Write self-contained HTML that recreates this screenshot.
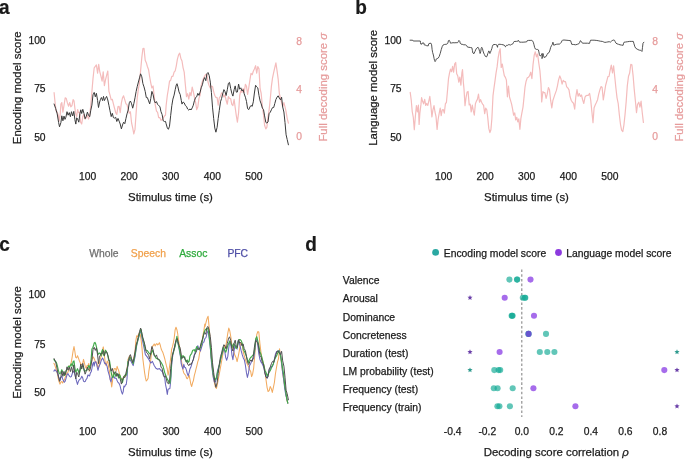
<!DOCTYPE html>
<html><head><meta charset="utf-8"><style>
html,body{margin:0;padding:0;background:#fff;width:685px;height:459px;overflow:hidden}
svg{display:block;will-change:transform}
text{font-family:"Liberation Sans",sans-serif}
</style></head><body>
<svg width="685" height="459" viewBox="0 0 685 459">
<text transform="translate(-1.0,13.5) scale(1,1.05)" x="0" y="0" font-size="19" font-weight="bold" fill="#1a1a1a" stroke="#1a1a1a" stroke-width="0.2">a</text>
<text transform="translate(355.3,13.5) scale(1,1.05)" x="0" y="0" font-size="19" font-weight="bold" fill="#1a1a1a" stroke="#1a1a1a" stroke-width="0.2">b</text>
<text transform="translate(-0.7,250.9) scale(1,1.05)" x="0" y="0" font-size="19" font-weight="bold" fill="#1a1a1a" stroke="#1a1a1a" stroke-width="0.2">c</text>
<text transform="translate(305.3,250.5) scale(1,1.05)" x="0" y="0" font-size="19" font-weight="bold" fill="#1a1a1a" stroke="#1a1a1a" stroke-width="0.2">d</text>
<text transform="translate(20.8,87.8) rotate(-90)" x="0" y="0" font-size="11.4" fill="#1a1a1a" stroke="#1a1a1a" stroke-width="0.25" text-anchor="middle">Encoding model score</text>
<text x="45.6" y="44.1" font-size="10.3" fill="#1a1a1a" stroke="#1a1a1a" stroke-width="0.25" text-anchor="end" >100</text>
<text x="45.6" y="92.2" font-size="10.3" fill="#1a1a1a" stroke="#1a1a1a" stroke-width="0.25" text-anchor="end" >75</text>
<text x="45.6" y="140.7" font-size="10.3" fill="#1a1a1a" stroke="#1a1a1a" stroke-width="0.25" text-anchor="end" >50</text>
<text x="296.3" y="45.3" font-size="10.3" fill="#e69c9c" stroke="#e69c9c" stroke-width="0.25" text-anchor="start" >8</text>
<text x="296.3" y="92.7" font-size="10.3" fill="#e69c9c" stroke="#e69c9c" stroke-width="0.25" text-anchor="start" >4</text>
<text x="296.3" y="139.6" font-size="10.3" fill="#e69c9c" stroke="#e69c9c" stroke-width="0.25" text-anchor="start" >0</text>
<text transform="translate(327.2,87.2) rotate(-90)" x="0" y="0" font-size="11.4" fill="#e69c9c" stroke="#e69c9c" stroke-width="0.25" text-anchor="middle">Full decoding score <tspan font-style="italic">σ</tspan></text>
<text x="87.7" y="180.2" font-size="10.3" fill="#1a1a1a" stroke="#1a1a1a" stroke-width="0.25" text-anchor="middle" >100</text>
<text x="129.2" y="180.2" font-size="10.3" fill="#1a1a1a" stroke="#1a1a1a" stroke-width="0.25" text-anchor="middle" >200</text>
<text x="170.6" y="180.2" font-size="10.3" fill="#1a1a1a" stroke="#1a1a1a" stroke-width="0.25" text-anchor="middle" >300</text>
<text x="212.3" y="180.2" font-size="10.3" fill="#1a1a1a" stroke="#1a1a1a" stroke-width="0.25" text-anchor="middle" >400</text>
<text x="253.8" y="180.2" font-size="10.3" fill="#1a1a1a" stroke="#1a1a1a" stroke-width="0.25" text-anchor="middle" >500</text>
<text x="170.5" y="201" font-size="11.4" fill="#1a1a1a" stroke="#1a1a1a" stroke-width="0.25" text-anchor="middle" >Stimulus time (s)</text>
<text transform="translate(376.8,87.8) rotate(-90)" x="0" y="0" font-size="11.4" fill="#1a1a1a" stroke="#1a1a1a" stroke-width="0.25" text-anchor="middle">Language model score</text>
<text x="401.6" y="44.1" font-size="10.3" fill="#1a1a1a" stroke="#1a1a1a" stroke-width="0.25" text-anchor="end" >100</text>
<text x="401.6" y="92.2" font-size="10.3" fill="#1a1a1a" stroke="#1a1a1a" stroke-width="0.25" text-anchor="end" >75</text>
<text x="401.6" y="140.7" font-size="10.3" fill="#1a1a1a" stroke="#1a1a1a" stroke-width="0.25" text-anchor="end" >50</text>
<text x="652.3" y="45.3" font-size="10.3" fill="#e69c9c" stroke="#e69c9c" stroke-width="0.25" text-anchor="start" >8</text>
<text x="652.3" y="92.7" font-size="10.3" fill="#e69c9c" stroke="#e69c9c" stroke-width="0.25" text-anchor="start" >4</text>
<text x="652.3" y="139.6" font-size="10.3" fill="#e69c9c" stroke="#e69c9c" stroke-width="0.25" text-anchor="start" >0</text>
<text transform="translate(683.2,87.2) rotate(-90)" x="0" y="0" font-size="11.4" fill="#e69c9c" stroke="#e69c9c" stroke-width="0.25" text-anchor="middle">Full decoding score <tspan font-style="italic">σ</tspan></text>
<text x="443.7" y="180.2" font-size="10.3" fill="#1a1a1a" stroke="#1a1a1a" stroke-width="0.25" text-anchor="middle" >100</text>
<text x="485.2" y="180.2" font-size="10.3" fill="#1a1a1a" stroke="#1a1a1a" stroke-width="0.25" text-anchor="middle" >200</text>
<text x="526.6" y="180.2" font-size="10.3" fill="#1a1a1a" stroke="#1a1a1a" stroke-width="0.25" text-anchor="middle" >300</text>
<text x="568.3" y="180.2" font-size="10.3" fill="#1a1a1a" stroke="#1a1a1a" stroke-width="0.25" text-anchor="middle" >400</text>
<text x="609.8" y="180.2" font-size="10.3" fill="#1a1a1a" stroke="#1a1a1a" stroke-width="0.25" text-anchor="middle" >500</text>
<text x="526.5" y="201" font-size="11.4" fill="#1a1a1a" stroke="#1a1a1a" stroke-width="0.25" text-anchor="middle" >Stimulus time (s)</text>
<text transform="translate(20.5,342.5) rotate(-90)" x="0" y="0" font-size="11.4" fill="#1a1a1a" stroke="#1a1a1a" stroke-width="0.25" text-anchor="middle">Encoding model score</text>
<text x="45.6" y="298.3" font-size="10.3" fill="#1a1a1a" stroke="#1a1a1a" stroke-width="0.25" text-anchor="end" >100</text>
<text x="45.6" y="347.7" font-size="10.3" fill="#1a1a1a" stroke="#1a1a1a" stroke-width="0.25" text-anchor="end" >75</text>
<text x="45.6" y="395.9" font-size="10.3" fill="#1a1a1a" stroke="#1a1a1a" stroke-width="0.25" text-anchor="end" >50</text>
<text x="87.7" y="435.2" font-size="10.3" fill="#1a1a1a" stroke="#1a1a1a" stroke-width="0.25" text-anchor="middle" >100</text>
<text x="129.4" y="435.2" font-size="10.3" fill="#1a1a1a" stroke="#1a1a1a" stroke-width="0.25" text-anchor="middle" >200</text>
<text x="171" y="435.2" font-size="10.3" fill="#1a1a1a" stroke="#1a1a1a" stroke-width="0.25" text-anchor="middle" >300</text>
<text x="212.7" y="435.2" font-size="10.3" fill="#1a1a1a" stroke="#1a1a1a" stroke-width="0.25" text-anchor="middle" >400</text>
<text x="254.1" y="435.2" font-size="10.3" fill="#1a1a1a" stroke="#1a1a1a" stroke-width="0.25" text-anchor="middle" >500</text>
<text x="170.5" y="456" font-size="11.4" fill="#1a1a1a" stroke="#1a1a1a" stroke-width="0.25" text-anchor="middle" >Stimulus time (s)</text>
<text x="89.2" y="257.2" font-size="10.35" fill="#6e6e6e" stroke="#6e6e6e" stroke-width="0.25" text-anchor="start" >Whole</text>
<text x="130.8" y="257.2" font-size="10.35" fill="#f0a04b" stroke="#f0a04b" stroke-width="0.25" text-anchor="start" >Speech</text>
<text x="179.2" y="257.2" font-size="10.35" fill="#2eaa3c" stroke="#2eaa3c" stroke-width="0.25" text-anchor="start" >Assoc</text>
<text x="227.4" y="257.2" font-size="10.35" fill="#4e4ea6" stroke="#4e4ea6" stroke-width="0.25" text-anchor="start" >PFC</text>
<circle cx="435.6" cy="252.4" r="3.4" fill="#2aa8a2"/>
<text x="443.8" y="256.9" font-size="10.35" fill="#1a1a1a" stroke="#1a1a1a" stroke-width="0.25" text-anchor="start" >Encoding model score</text>
<circle cx="558.5" cy="252.5" r="3.4" fill="#8c3ade"/>
<text x="566.2" y="256.9" font-size="10.35" fill="#1a1a1a" stroke="#1a1a1a" stroke-width="0.25" text-anchor="start" >Language model score</text>
<text x="342.8" y="284.3" font-size="10.35" fill="#1a1a1a" stroke="#1a1a1a" stroke-width="0.25" text-anchor="start" >Valence</text>
<text x="342.8" y="302.40000000000003" font-size="10.35" fill="#1a1a1a" stroke="#1a1a1a" stroke-width="0.25" text-anchor="start" >Arousal</text>
<text x="342.8" y="320.5" font-size="10.35" fill="#1a1a1a" stroke="#1a1a1a" stroke-width="0.25" text-anchor="start" >Dominance</text>
<text x="342.8" y="338.6" font-size="10.35" fill="#1a1a1a" stroke="#1a1a1a" stroke-width="0.25" text-anchor="start" >Concreteness</text>
<text x="342.8" y="356.70000000000005" font-size="10.35" fill="#1a1a1a" stroke="#1a1a1a" stroke-width="0.25" text-anchor="start" >Duration (test)</text>
<text x="342.8" y="374.8" font-size="10.35" fill="#1a1a1a" stroke="#1a1a1a" stroke-width="0.25" text-anchor="start" >LM probability (test)</text>
<text x="342.8" y="392.90000000000003" font-size="10.35" fill="#1a1a1a" stroke="#1a1a1a" stroke-width="0.25" text-anchor="start" >Frequency (test)</text>
<text x="342.8" y="411.0" font-size="10.35" fill="#1a1a1a" stroke="#1a1a1a" stroke-width="0.25" text-anchor="start" >Frequency (train)</text>
<text x="452.7" y="435" font-size="10.3" fill="#1a1a1a" stroke="#1a1a1a" stroke-width="0.25" text-anchor="middle" >-0.4</text>
<text x="487.25" y="435" font-size="10.3" fill="#1a1a1a" stroke="#1a1a1a" stroke-width="0.25" text-anchor="middle" >-0.2</text>
<text x="521.8" y="435" font-size="10.3" fill="#1a1a1a" stroke="#1a1a1a" stroke-width="0.25" text-anchor="middle" >0.0</text>
<text x="556.35" y="435" font-size="10.3" fill="#1a1a1a" stroke="#1a1a1a" stroke-width="0.25" text-anchor="middle" >0.2</text>
<text x="590.9" y="435" font-size="10.3" fill="#1a1a1a" stroke="#1a1a1a" stroke-width="0.25" text-anchor="middle" >0.4</text>
<text x="625.45" y="435" font-size="10.3" fill="#1a1a1a" stroke="#1a1a1a" stroke-width="0.25" text-anchor="middle" >0.6</text>
<text x="660.0" y="435" font-size="10.3" fill="#1a1a1a" stroke="#1a1a1a" stroke-width="0.25" text-anchor="middle" >0.8</text>
<text x="556.3" y="456" font-size="11.4" fill="#1a1a1a" stroke="#1a1a1a" stroke-width="0.25" text-anchor="middle" >Decoding score correlation <tspan font-style="italic">ρ</tspan></text>
<line x1="521.8" y1="269.5" x2="521.8" y2="417" stroke="#888" stroke-width="1.1" stroke-dasharray="2.6,2.1"/>
<polyline points="54.1,92.7 55.0,101.9 56.1,111.1 57.2,112.0 58.4,115.7 59.1,121.1 60.2,114.3 60.9,104.1 61.8,102.6 62.9,112.2 64.0,105.3 65.2,97.8 66.3,98.6 67.4,102.9 68.6,106.2 69.7,102.5 70.8,106.8 72.0,105.5 73.1,99.6 74.0,100.8 74.9,108.4 75.6,113.2 76.7,116.7 77.6,109.5 78.5,112.7 79.5,112.2 80.6,122.1 81.7,124.0 82.8,116.6 84.0,114.3 85.1,119.2 86.2,117.7 87.4,115.0 88.5,119.0 89.7,115.3 90.8,105.1 91.9,91.8 93.0,78.6 94.2,67.8 95.3,66.3 96.4,65.0 97.6,73.2 98.7,64.3 99.8,71.8 101.0,76.3 102.1,81.1 103.2,71.9 104.4,85.7 105.5,79.8 106.6,75.3 107.8,71.0 108.9,91.1 110.0,95.1 111.2,99.8 112.3,99.3 113.4,103.8 114.6,108.5 115.7,112.7 116.8,114.4 118.0,106.6 119.1,106.4 120.2,112.6 121.4,102.9 122.5,97.9 123.6,95.8 124.8,99.9 125.9,103.7 127.0,104.6 128.2,109.6 129.3,113.2 130.4,111.8 131.6,123.0 132.7,127.8 133.8,133.9 135.0,129.4 136.1,113.3 137.2,98.2 138.4,88.8 139.5,82.9 140.6,70.6 141.8,57.6 142.9,48.7 144.0,48.4 145.2,60.3 146.3,62.7 147.4,66.5 148.6,69.8 149.7,77.0 150.8,83.1 151.9,88.0 153.1,86.0 154.2,96.2 155.3,105.1 156.5,111.2 157.6,112.4 158.7,117.7 159.9,117.7 161.0,120.3 162.1,119.9 163.3,117.8 164.4,116.1 165.5,115.0 166.1,105.8 167.3,95.5 168.4,89.0 169.5,81.3 170.7,80.2 171.8,76.3 172.9,76.4 174.1,72.1 175.2,70.8 176.3,65.8 177.4,59.1 178.6,54.9 179.7,53.2 180.8,58.2 182.0,61.0 183.1,67.8 184.2,72.1 185.4,85.3 186.5,96.6 187.6,93.7 188.8,99.1 189.9,92.5 191.0,95.7 192.2,87.2 193.3,91.6 194.4,97.2 195.6,102.1 196.7,109.6 197.8,107.1 199.0,98.1 200.1,95.3 201.2,85.4 202.4,81.3 203.5,78.4 204.6,76.4 205.8,74.3 206.9,74.6 208.0,82.0 209.2,85.8 210.3,88.0 211.4,86.0 212.5,86.5 213.7,91.8 214.8,95.5 215.9,97.4 217.1,97.7 218.2,105.1 219.3,98.0 220.5,96.1 221.6,92.9 222.7,93.8 223.9,97.0 225.0,95.1 226.1,100.3 227.3,104.2 228.4,96.7 229.5,98.3 230.7,98.8 231.8,104.4 232.9,105.5 234.1,99.4 235.2,107.6 236.3,115.6 237.4,122.2 238.6,112.7 239.7,95.5 240.8,90.6 242.0,92.3 243.1,88.5 244.2,92.4 245.4,84.3 246.5,86.3 247.6,94.5 248.8,87.3 249.9,80.2 251.0,73.4 252.2,74.7 253.3,71.2 254.4,69.0 255.6,65.7 256.7,73.2 257.8,66.6 259.0,68.9 260.1,88.7 261.2,93.5 262.4,106.9 263.5,114.5 264.6,125.2 265.8,128.9 266.9,127.1 268.0,117.1 269.1,110.1 270.3,98.6 271.4,86.4 272.5,78.2 273.7,72.3 274.8,67.5 275.9,62.9 277.1,71.2 278.2,79.3 279.3,93.3 280.5,98.5 281.6,102.7 282.7,106.5 283.9,102.6 285.0,106.9 286.1,111.8 287.2,118.3 288.4,123.2" fill="none" stroke="#f4bcbc" stroke-width="1.2" stroke-opacity="1.0" stroke-linejoin="round" stroke-linecap="round"/>
<polyline points="54.1,104.0 55.7,108.6 57.2,113.9 58.6,122.4 59.5,126.8 60.9,122.6 61.8,115.8 62.9,120.8 64.0,116.1 65.0,119.4 65.9,117.2 67.0,111.7 68.1,115.2 69.3,112.6 70.4,116.7 71.5,111.7 72.7,116.0 73.8,111.4 74.9,119.7 75.8,124.1 76.7,117.8 77.6,118.9 78.8,122.2 79.9,113.8 80.8,109.8 81.7,113.5 82.8,109.3 84.0,113.6 85.1,118.7 86.2,116.5 87.4,112.1 88.5,115.2 89.7,116.7 90.8,110.2 91.9,105.1 93.0,94.8 94.2,92.4 95.3,96.8 96.4,93.3 97.6,100.5 98.5,107.5 99.4,103.0 100.3,99.8 101.4,97.5 102.6,100.6 103.5,96.4 104.4,100.6 105.5,98.4 106.6,96.4 107.8,100.0 108.9,105.3 110.0,110.8 111.2,116.6 112.3,113.3 113.4,117.6 114.6,118.1 115.7,117.3 116.8,121.5 118.0,118.4 119.1,121.1 120.2,124.0 121.4,128.9 122.5,125.0 123.6,122.2 124.8,123.7 125.9,118.7 127.0,113.9 128.2,110.0 129.3,102.7 130.4,101.0 131.6,103.8 132.7,108.2 133.8,103.8 135.0,97.8 136.1,91.6 137.2,86.7 138.4,82.0 139.5,77.9 140.6,73.8 141.8,76.8 142.9,83.6 144.0,86.9 145.2,91.4 146.3,97.6 147.4,97.6 148.6,100.9 149.7,103.9 150.8,98.4 151.9,91.4 153.1,94.7 154.2,100.3 155.3,103.0 156.5,101.6 157.6,104.5 158.7,105.5 159.9,106.5 161.0,111.7 162.1,114.5 163.3,120.9 164.4,121.5 165.5,121.4 166.1,123.7 167.3,127.9 168.4,129.3 169.5,126.2 170.7,115.3 171.8,105.7 172.9,99.1 174.1,95.1 175.2,89.7 176.3,84.8 177.0,83.7 177.9,86.8 179.0,91.9 180.2,94.5 181.3,100.5 182.0,104.1 183.1,102.0 184.2,102.8 185.4,105.6 186.5,106.4 187.6,109.0 188.8,110.2 189.9,108.9 191.0,110.0 192.2,107.9 193.3,105.2 194.4,100.7 195.6,97.5 196.7,96.8 197.8,93.3 199.0,95.4 200.1,92.1 201.2,87.8 202.4,84.8 203.5,80.0 204.6,77.6 205.8,80.7 206.9,73.8 208.0,72.5 209.2,75.5 210.3,82.1 211.4,92.4 212.5,107.1 213.7,118.7 214.8,128.1 215.9,132.2 217.1,127.4 218.2,118.4 219.3,110.3 220.5,101.8 221.6,98.4 222.7,93.9 223.9,89.6 225.0,91.6 226.1,95.5 227.3,89.7 228.4,83.3 229.5,82.4 230.7,88.5 231.8,93.2 232.9,96.1 234.1,89.8 235.2,85.9 236.3,92.2 237.4,92.0 238.6,84.1 239.7,89.2 240.8,87.8 242.0,91.0 243.1,89.6 244.2,93.9 245.4,97.2 246.5,101.5 247.6,108.7 248.8,109.6 249.9,107.0 251.0,105.4 252.2,106.4 253.3,101.8 254.4,93.0 255.6,85.3 256.7,86.9 257.8,87.9 259.0,95.6 260.1,100.9 261.2,103.9 262.4,108.2 263.5,109.5 264.6,115.9 265.8,122.4 266.9,123.1 268.0,122.0 269.1,113.6 270.3,112.2 271.4,109.8 272.5,107.6 273.7,107.5 274.8,103.5 275.9,99.5 277.1,97.1 278.2,95.8 279.3,98.1 280.5,99.9 281.6,97.2 282.7,107.0 283.9,112.0 285.0,122.5 286.1,134.8 287.2,139.5 288.4,144.8" fill="none" stroke="#3a3a3a" stroke-width="1.0" stroke-opacity="1.0" stroke-linejoin="round" stroke-linecap="round"/>
<polyline points="410.2,92.4 411.2,99.8 412.2,111.3 413.3,117.4 414.3,129.6 415.4,116.0 416.4,105.6 417.4,111.9 418.4,105.0 419.1,124.5 419.9,112.8 420.9,104.9 421.6,97.6 422.6,101.3 423.6,103.9 424.7,99.3 425.7,105.4 426.7,103.5 427.8,105.4 428.8,101.1 429.8,96.3 430.9,105.7 431.9,116.9 432.9,110.1 434.0,105.6 435.0,112.0 436.0,116.5 437.1,129.4 438.1,119.5 439.1,113.8 440.2,108.0 441.2,115.7 442.2,109.9 443.3,109.6 444.3,113.2 445.4,103.7 446.4,102.5 447.4,91.7 448.5,78.7 449.5,73.2 450.5,69.2 451.6,71.7 452.6,66.3 453.6,72.2 454.7,63.9 455.7,62.5 456.7,73.8 457.8,76.1 458.8,82.1 459.8,77.1 460.9,85.1 461.9,72.8 462.5,69.6 463.4,82.9 464.0,89.0 465.0,105.6 466.1,97.1 467.1,92.0 468.1,91.5 469.2,104.9 470.2,104.1 471.2,111.9 472.3,105.2 473.3,110.7 474.3,115.1 475.4,103.7 476.4,101.1 477.4,99.4 478.5,94.2 479.5,102.2 480.5,99.6 481.6,102.3 482.6,104.1 483.6,105.4 484.7,113.7 485.7,108.2 486.8,109.8 487.8,118.1 488.8,128.4 489.9,132.6 490.9,129.8 491.9,118.3 493.0,95.7 494.0,87.8 495.0,80.9 496.1,72.6 497.1,66.9 498.1,58.1 499.2,51.9 500.2,48.7 501.2,67.5 502.3,64.0 503.3,70.3 504.3,75.7 505.4,77.4 506.4,80.1 507.4,96.8 508.5,86.0 509.5,97.0 510.6,100.6 511.6,104.1 512.6,109.2 513.6,115.2 514.7,112.9 515.7,119.9 516.8,117.3 517.8,122.0 518.8,118.9 519.9,129.3 520.9,118.4 521.9,112.9 523.0,107.1 524.0,97.4 525.0,87.1 526.1,81.2 527.3,77.8 528.4,77.3 529.6,75.7 530.7,72.2 531.9,78.7 533.0,64.9 534.2,55.2 535.3,51.8 536.5,56.8 537.6,54.0 538.7,62.5 539.9,70.5 541.0,83.9 541.7,101.9 542.9,91.5 543.8,92.7 544.9,92.7 546.1,98.3 547.2,94.2 548.4,87.6 549.5,89.8 550.6,100.2 551.8,107.8 552.9,100.5 554.1,96.9 555.2,93.6 556.4,90.4 557.5,85.6 558.6,79.7 559.8,75.9 560.9,78.7 562.1,84.2 563.2,80.3 564.4,81.7 565.5,81.6 566.7,86.8 567.8,87.9 569.0,89.9 570.1,96.8 571.2,100.3 572.4,102.3 573.5,103.2 574.7,109.1 575.8,96.8 577.0,89.6 578.1,96.2 579.3,93.5 580.4,96.5 581.5,95.0 582.7,100.0 583.8,103.5 585.0,97.1 586.1,95.6 587.3,95.4 588.4,95.3 589.6,93.4 590.7,100.0 591.9,111.9 593.0,122.7 594.1,107.8 595.3,104.7 596.4,102.4 597.6,99.7 598.7,94.2 599.9,89.8 601.0,86.6 602.1,87.2 603.3,100.0 604.4,93.2 605.6,85.5 606.7,81.3 607.9,76.7 609.0,76.5 610.2,70.0 611.3,65.2 612.5,73.0 613.6,65.8 614.7,76.3 615.9,88.0 617.0,97.6 618.2,103.5 619.3,114.5 620.5,124.5 621.6,130.2 622.8,131.6 623.9,125.1 625.0,114.9 626.2,101.4 627.3,85.9 628.5,76.3 629.6,73.3 630.8,64.3 631.9,64.8 633.1,75.6 634.2,89.1 635.4,101.0 636.5,112.6 637.6,104.2 638.8,102.2 639.9,107.1 641.1,101.2 642.2,112.2 643.4,122.4" fill="none" stroke="#f4bcbc" stroke-width="1.2" stroke-opacity="1.0" stroke-linejoin="round" stroke-linecap="round"/>
<polyline points="410.1,40.2 412.7,40.2 413.2,41.0 420.3,41.0 420.5,42.7 420.8,44.1 421.9,44.1 422.2,43.0 423.9,43.0 424.2,44.8 424.9,45.1 425.9,45.1 426.5,45.8 428.3,45.8 428.7,43.8 430.0,43.2 431.1,43.4 431.6,44.8 432.1,49.4 432.6,52.4 433.1,54.0 433.6,56.0 434.1,58.6 434.6,60.6 435.1,61.6 435.7,60.6 436.2,59.1 437.2,58.6 438.2,58.1 439.2,56.5 440.2,53.5 441.3,49.4 442.3,46.3 443.0,45.1 444.3,44.5 445.9,44.3 446.9,44.1 447.7,43.4 448.1,42.2 448.4,40.7 449.4,40.4 450.0,41.7 450.5,43.2 451.5,43.0 453.0,42.7 454.1,42.8 456.1,42.7 457.6,42.7 458.3,41.7 458.9,40.4 459.7,41.2 460.2,43.2 461.0,44.1 462.2,44.3 463.8,44.8 465.3,44.8 466.1,45.1 466.8,45.8 467.5,47.1 468.9,47.3 470.4,47.5 471.9,47.8 472.4,50.4 472.9,53.0 474.0,53.7 475.0,51.4 476.1,48.9 477.1,47.8 478.1,47.3 478.9,48.9 479.6,51.4 480.1,53.5 480.7,51.9 481.2,48.4 481.7,47.3 482.4,48.4 483.0,50.9 483.7,53.0 484.4,54.5 485.3,56.3 486.3,57.0 487.1,56.0 487.8,53.5 488.3,52.4 488.8,50.9 489.4,51.9 489.9,53.5 490.4,52.4 491.2,50.4 491.9,48.4 492.4,46.3 493.1,44.8 493.9,44.5 495.5,44.5 496.7,44.8 497.2,46.3 497.5,47.3 497.8,45.3 498.6,44.3 500.1,44.3 501.6,44.5 503.1,44.8 504.2,45.1 504.9,46.3 505.5,46.8 505.9,45.8 506.7,45.3 507.7,45.3 508.8,44.5 509.8,44.8 510.8,45.1 511.6,44.3 512.6,44.1 513.4,42.7 513.9,41.7 514.9,41.4 516.4,41.4 518.0,41.0 518.5,40.4 519.0,41.7 520.0,42.2 521.5,42.2 523.1,42.2 525.1,42.0 526.6,41.9 527.2,40.7 528.7,40.4 530.2,40.4 531.8,40.4 532.8,41.2 533.3,42.2 534.0,44.8 534.6,47.3 535.3,48.9 536.4,49.4 537.4,49.4 538.4,49.9 538.9,51.9 539.4,54.5 540.2,56.0 541.0,55.5 541.5,54.5 542.0,53.5 542.0,58.6 542.5,56.5 543.0,53.5 543.5,55.5 544.1,57.5 545.1,57.0 546.1,56.5 547.1,54.5 548.1,53.0 549.2,52.4 550.0,49.9 550.7,47.3 551.7,45.3 552.4,44.3 552.9,42.2 553.3,43.2 553.8,45.3 554.8,44.8 556.3,44.3 557.9,44.1 559.4,44.1 560.4,43.4 561.4,42.2 562.0,40.7 562.5,40.2 564.0,40.0 566.0,40.2 568.1,40.4 570.6,40.7 571.1,42.2 571.7,44.3 573.7,44.5 575.7,44.8 577.3,44.3 578.8,43.8 579.8,42.2 580.3,40.7 581.1,41.2 581.9,42.7 582.9,43.2 584.9,43.2 587.5,43.2 589.5,43.4 590.0,41.7 590.6,40.2 592.1,40.2 594.1,40.2 596.2,40.4 598.2,40.7 600.3,41.2 602.3,41.4 603.8,42.0 604.9,42.4 606.4,42.2 607.9,41.9 609.3,41.7 610.3,42.2 611.4,41.2 612.9,40.2 613.9,40.0 614.6,40.4 615.2,41.7 616.0,43.2 617.0,43.8 618.5,44.3 620.0,44.8 621.6,45.1 623.1,45.3 623.6,43.2 624.1,42.2 625.7,42.0 627.7,41.7 629.7,41.4 631.8,41.4 633.3,41.4 633.8,43.2 634.9,46.8 635.9,48.4 636.9,48.9 637.9,49.6 639.5,50.2 640.8,50.4 641.5,50.9 642.0,51.4 642.5,47.3 643.0,43.2 643.9,42.2" fill="none" stroke="#404040" stroke-width="0.9" stroke-opacity="1.0" stroke-linejoin="round" stroke-linecap="round"/>
<polyline points="53.9,363.3 54.8,365.1 55.7,367.9 56.5,370.9 57.4,373.9 58.3,378.6 59.1,381.8 60.0,384.1 60.9,382.0 61.8,381.6 62.6,383.0 63.5,381.2 64.4,379.8 65.2,377.4 66.1,374.8 67.0,373.1 67.9,372.3 68.7,369.8 69.6,366.0 70.5,365.1 71.3,362.1 72.2,356.9 73.1,350.9 74.0,346.6 74.8,351.0 75.7,357.4 76.6,357.9 77.5,355.7 78.3,357.6 79.2,360.4 80.1,362.4 80.9,364.8 81.8,364.2 82.7,363.3 83.5,359.4 84.4,362.9 85.3,366.7 86.2,368.2 87.0,365.6 87.9,365.8 88.8,363.5 89.2,371.1 89.9,368.5 90.7,365.1 91.5,362.1 92.2,359.6 93.0,356.7 93.8,357.9 94.5,359.3 95.3,361.6 96.0,361.9 96.8,362.3 97.6,366.1 98.3,368.1 99.1,365.6 99.8,361.2 100.6,357.9 101.4,356.1 102.1,353.5 102.9,348.4 103.3,346.9 104.1,352.8 104.9,360.0 105.6,365.2 106.4,364.5 107.2,361.1 107.9,362.3 108.7,367.3 109.5,371.7 110.2,379.3 111.0,381.6 111.7,386.9 112.5,381.2 113.3,373.4 114.0,369.0 114.8,368.5 115.5,368.7 116.3,371.0 117.1,366.3 117.8,368.4 118.6,370.3 119.4,373.5 120.1,376.2 120.9,378.5 121.7,379.0 122.4,379.7 123.2,378.3 123.9,376.2 124.7,377.0 125.5,376.1 126.2,374.9 127.0,369.8 128.0,359.4 129.8,355.7 131.5,361.0 133.2,361.8 135.0,351.5 135.8,341.2 136.7,335.8 137.6,336.7 138.5,334.4 139.3,333.0 140.2,334.2 141.1,339.7 142.0,347.9 142.8,358.4 143.7,365.5 144.6,372.6 145.4,377.7 146.3,381.0 147.2,380.0 148.1,378.2 148.9,370.8 149.8,365.4 150.7,360.1 151.6,351.9 152.4,346.6 153.3,345.4 154.2,343.9 155.1,345.9 155.9,344.4 156.8,343.6 157.7,344.9 158.5,344.1 159.4,342.8 160.3,345.3 161.2,349.0 162.0,350.8 162.9,352.6 163.8,355.3 164.7,358.5 165.5,361.9 166.4,365.7 167.3,369.0 168.1,375.1 169.0,370.7 169.9,363.8 170.8,357.2 171.6,349.4 172.5,346.7 173.4,342.7 174.2,338.0 175.1,330.0 176.0,327.2 176.9,329.7 177.7,333.7 178.6,340.9 179.5,346.4 180.4,352.4 181.2,359.3 182.1,364.7 183.0,370.2 183.8,373.0 184.7,374.3 185.6,375.2 186.5,377.8 187.3,378.8 188.2,377.2 189.1,375.2 189.9,379.2 190.8,384.0 191.7,386.5 192.6,382.8 193.4,380.6 194.3,375.6 195.2,372.3 196.1,368.7 196.9,365.6 197.8,361.7 198.7,359.1 199.6,353.0 200.4,350.0 201.3,346.3 202.2,340.5 203.0,335.2 203.9,330.4 204.8,324.1 205.0,326.6 206.0,322.5 207.1,318.4 208.1,316.2 209.1,326.7 210.2,340.9 211.2,355.9 212.2,367.2 213.3,376.7 214.3,382.0 215.3,386.8 216.4,388.4 217.4,384.3 218.5,377.9 219.5,372.8 220.5,367.4 221.6,361.2 222.6,355.7 223.6,349.5 224.7,345.2 225.7,346.8 226.7,340.7 227.8,333.2 228.8,328.1 229.8,331.0 230.9,337.3 231.9,345.3 232.9,348.7 234.0,352.4 235.0,355.6 236.1,357.7 237.1,361.6 238.1,357.1 239.2,351.3 240.2,345.3 241.2,342.7 242.3,345.3 243.3,352.0 244.3,355.8 245.4,359.6 246.4,362.3 247.4,364.3 248.5,366.4 249.5,369.6 250.6,371.2 251.6,376.6 252.6,374.2 253.7,367.8 254.7,355.8 255.7,342.9 256.8,334.5 257.8,331.6 258.8,332.0 259.9,343.5 260.9,351.9 261.9,358.5 263.0,361.9 264.0,366.2 265.0,371.7 266.1,380.4 267.1,387.6 268.1,391.5 269.2,390.7 270.2,386.5 271.2,388.4 272.3,392.4 273.3,387.9 274.4,382.5 275.4,374.0 276.4,368.0 277.5,361.8 278.5,358.6 279.5,348.8 280.6,356.2 281.6,364.5 282.6,372.0 283.7,380.1 284.7,386.0 285.8,392.4 286.8,400.0 287.8,403.2" fill="none" stroke="#f2ab60" stroke-width="1.05" stroke-opacity="1.0" stroke-linejoin="round" stroke-linecap="round"/>
<polyline points="53.9,371.1 54.8,369.7 55.7,370.6 56.5,371.5 57.4,372.6 58.3,376.3 59.1,377.9 60.0,380.4 60.9,377.3 61.8,376.2 62.6,378.7 63.5,380.9 64.4,382.3 65.2,381.2 66.1,378.2 67.0,374.9 67.9,373.6 68.7,375.0 69.6,376.4 70.5,377.0 71.3,376.6 72.2,373.8 73.1,371.7 74.0,371.2 74.8,373.5 75.7,377.9 76.6,381.4 77.5,384.4 78.3,381.6 79.2,379.9 80.1,379.3 80.9,378.2 81.8,376.3 82.7,377.8 83.5,381.1 84.4,381.7 85.3,381.4 86.2,379.3 87.0,378.4 87.9,375.0 88.8,375.2 88.9,375.7 89.6,375.9 90.4,372.9 91.2,371.8 91.9,368.7 92.7,364.1 93.5,362.2 94.2,366.1 95.0,361.7 95.7,361.7 96.5,363.7 97.3,367.4 98.0,370.3 98.8,367.2 99.5,365.3 100.3,363.7 101.1,360.9 101.8,359.2 102.6,358.0 103.3,359.4 104.1,361.7 104.9,363.8 105.6,363.3 106.4,364.8 107.2,366.6 107.9,370.5 108.7,373.3 109.5,376.2 110.2,379.7 111.0,381.9 111.7,378.0 112.5,376.2 113.3,377.2 114.0,376.4 114.8,378.2 115.5,378.1 116.3,378.4 117.1,380.6 117.8,382.1 118.6,382.8 119.4,384.1 120.1,385.9 120.9,389.5 121.7,392.4 122.4,394.1 123.2,391.6 123.9,386.0 124.7,386.9 125.5,384.7 126.2,384.7 127.0,378.8 128.0,361.8 129.8,359.1 131.5,362.2 133.2,365.6 135.0,356.8 136.7,345.5 138.5,337.6 140.2,332.3 141.1,330.6 142.0,338.1 143.7,346.1 145.4,354.6 147.2,356.9 148.9,359.4 150.7,363.1 152.4,361.4 154.2,365.5 155.9,368.2 157.7,369.3 159.4,368.6 161.2,370.7 162.9,372.5 164.7,377.4 165.5,384.4 166.4,388.6 167.3,394.4 168.1,389.2 169.9,388.5 170.8,379.7 171.6,366.0 172.5,357.4 173.4,351.3 174.2,348.4 175.1,345.4 176.0,340.9 176.9,340.6 177.7,342.6 178.6,345.4 179.5,351.5 180.4,356.2 181.2,363.7 182.1,366.9 183.0,369.0 183.8,364.3 184.7,367.3 185.6,367.8 186.5,370.4 187.3,373.6 188.2,375.9 189.1,372.7 189.9,369.1 190.8,367.3 191.7,364.4 192.6,361.3 193.4,359.1 194.3,355.0 195.2,352.4 196.1,351.0 196.9,347.2 197.8,345.7 198.7,348.5 199.6,349.6 200.4,351.1 201.3,348.0 202.2,345.4 203.0,342.4 203.9,342.1 204.8,338.8 205.0,338.5 206.0,337.5 207.1,332.8 208.1,330.7 209.1,337.7 210.2,346.4 211.2,359.9 212.2,369.5 213.3,377.6 214.3,382.0 215.3,382.0 216.4,378.2 217.4,371.2 218.5,367.4 219.5,364.6 220.5,360.2 221.6,355.0 222.6,352.6 223.6,349.2 224.7,350.8 225.7,357.6 226.7,360.2 227.8,356.4 228.8,347.8 229.8,340.8 230.9,344.9 231.9,354.8 232.9,359.7 234.0,351.1 235.0,345.3 236.1,346.6 237.1,349.1 238.1,340.6 239.2,342.5 240.2,346.7 241.2,350.9 242.3,354.9 243.3,357.9 244.3,359.7 245.4,365.2 246.4,372.4 247.4,377.4 248.5,372.9 249.5,365.8 250.6,363.7 251.6,361.4 252.6,359.8 253.7,357.9 254.7,351.5 255.7,340.9 256.8,339.3 257.8,345.2 258.8,353.6 259.9,359.2 260.9,361.9 261.9,363.3 263.0,365.5 264.0,368.1 265.0,373.2 266.1,376.8 267.1,378.3 268.1,374.1 269.2,370.5 270.2,368.7 271.2,366.5 272.3,366.8 273.3,363.9 274.4,359.5 275.4,354.4 276.4,352.0 277.5,351.3 278.5,351.3 279.5,350.8 280.6,355.8 281.6,363.4 282.6,372.4 283.7,379.7 284.7,388.5 285.8,395.1 286.8,398.5 287.8,403.2" fill="none" stroke="#6a66bc" stroke-width="1.05" stroke-opacity="1.0" stroke-linejoin="round" stroke-linecap="round"/>
<polyline points="53.9,359.4 54.8,360.9 55.7,361.5 56.5,362.9 57.4,366.0 58.3,370.1 59.1,372.9 60.0,373.8 60.9,372.2 61.8,369.7 62.6,371.8 63.5,372.8 64.4,375.5 65.2,373.7 66.1,370.6 67.0,369.5 67.9,367.5 68.7,366.1 69.6,367.4 70.5,365.2 71.3,363.8 72.2,366.2 73.1,361.7 74.0,360.9 74.8,367.3 75.7,371.9 76.6,370.8 77.5,368.7 78.3,370.6 79.2,374.0 80.1,370.5 80.9,367.4 81.8,366.5 82.7,365.7 83.5,368.3 84.4,371.4 85.3,371.0 86.2,370.4 87.0,370.3 87.9,367.3 88.8,365.6 89.6,368.1 90.4,364.9 91.2,358.3 91.9,349.0 92.7,347.7 93.5,345.8 94.2,343.0 95.0,342.4 95.7,344.0 96.5,347.1 97.3,350.7 98.0,354.4 98.8,353.8 99.5,353.0 100.3,353.2 101.1,355.9 101.8,351.5 102.6,349.5 103.3,354.3 104.1,355.8 104.9,351.7 105.6,350.2 106.4,351.8 107.2,353.2 107.9,355.8 108.7,360.3 109.5,360.6 110.2,365.2 111.0,371.2 111.7,375.0 112.5,377.6 113.3,376.9 114.0,372.1 114.8,373.3 115.5,376.1 116.3,374.1 117.1,373.5 117.8,374.6 118.6,378.0 119.4,374.5 120.1,375.7 120.9,378.3 121.7,379.8 122.4,382.6 123.2,379.4 123.9,377.1 124.7,375.4 125.5,374.8 126.2,375.2 127.0,371.7 128.0,361.9 129.8,357.1 131.5,359.3 133.2,363.7 135.0,354.9 136.7,344.5 138.5,337.9 140.2,330.9 141.1,329.4 142.0,336.0 143.7,341.6 145.4,350.0 147.2,350.5 148.9,352.8 150.7,354.5 152.4,350.1 154.2,354.8 155.9,358.1 157.7,359.0 159.4,360.2 161.2,362.5 162.9,365.7 164.7,372.5 166.4,377.2 168.1,380.4 169.9,383.5 170.8,376.3 171.6,361.7 172.5,354.5 173.4,352.9 174.2,349.2 175.1,346.5 176.0,341.3 176.9,336.3 177.7,340.9 178.6,346.2 179.5,349.5 180.4,355.0 181.2,359.2 182.1,356.8 183.0,355.5 183.8,357.2 184.7,356.8 185.6,361.0 186.5,362.0 187.3,360.0 188.2,362.3 189.1,361.3 189.9,356.3 190.8,354.6 191.7,353.3 192.6,350.5 193.4,350.0 194.3,349.7 195.2,351.8 196.1,348.2 196.9,346.6 197.8,348.5 198.7,349.5 199.6,348.6 200.4,347.8 201.3,344.3 202.2,341.5 203.0,337.9 203.9,332.9 204.8,330.7 205.0,330.2 206.0,329.1 207.1,328.3 208.1,329.3 209.1,335.4 210.2,345.5 211.2,356.5 212.2,365.3 213.3,374.6 214.3,378.0 215.3,380.1 216.4,377.5 217.4,372.9 218.5,368.9 219.5,364.3 220.5,359.4 221.6,355.6 222.6,350.9 223.6,347.1 224.7,350.1 225.7,352.2 226.7,349.7 227.8,345.6 228.8,343.1 229.8,341.3 230.9,344.1 231.9,347.5 232.9,344.9 234.0,343.6 235.0,346.1 236.1,348.4 237.1,347.2 238.1,341.9 239.2,339.5 240.2,339.6 241.2,340.6 242.3,343.4 243.3,349.4 244.3,351.3 245.4,353.6 246.4,356.4 247.4,359.7 248.5,362.5 249.5,359.4 250.6,357.5 251.6,356.7 252.6,355.5 253.7,354.3 254.7,348.8 255.7,338.8 256.8,336.7 257.8,341.1 258.8,345.7 259.9,351.7 260.9,354.1 261.9,357.7 263.0,362.0 264.0,366.2 265.0,370.4 266.1,372.6 267.1,376.0 268.1,374.4 269.2,372.2 270.2,370.7 271.2,368.4 272.3,365.6 273.3,364.1 274.4,360.1 275.4,357.7 276.4,356.2 277.5,353.6 278.5,350.8 279.5,352.6 280.6,356.0 281.6,361.4 282.6,368.3 283.7,374.9 284.7,385.6 285.8,392.1 286.8,398.8 287.8,403.2" fill="none" stroke="#42aa4a" stroke-width="1.15" stroke-opacity="1.0" stroke-linejoin="round" stroke-linecap="round"/>
<polyline points="54.1,358.6 55.7,362.0 57.2,369.1 58.6,376.9 59.5,381.4 60.9,376.6 61.8,371.2 62.9,376.3 64.0,371.4 65.0,375.1 65.9,372.5 67.0,366.8 68.1,370.2 69.3,367.1 70.4,371.6 71.5,366.9 72.7,372.6 73.8,364.8 74.9,374.0 75.8,378.9 76.7,372.2 77.6,373.7 78.8,377.0 79.9,369.2 80.8,364.1 81.7,369.1 82.8,363.4 84.0,368.7 85.1,374.2 86.2,371.5 87.4,367.1 88.5,369.8 89.7,370.9 90.8,366.5 91.9,359.7 93.0,349.7 94.2,347.3 95.3,350.4 96.4,347.9 97.6,355.0 98.5,363.7 99.4,357.1 100.3,355.3 101.4,353.1 102.6,353.4 103.5,350.6 104.4,355.7 105.5,352.1 106.6,351.6 107.8,355.1 108.9,359.4 110.0,366.9 111.2,371.2 112.3,368.4 113.4,372.7 114.6,373.8 115.7,371.6 116.8,376.4 118.0,373.7 119.1,377.0 120.2,378.8 121.4,384.1 122.5,380.2 123.6,376.8 124.8,377.6 125.9,373.1 127.0,368.7 128.2,364.9 129.3,356.7 130.4,354.6 131.6,358.7 132.7,362.6 133.8,358.9 135.0,352.1 136.1,345.0 137.2,341.6 138.4,336.5 139.5,331.8 140.6,328.0 141.8,332.7 142.9,338.0 144.0,341.5 145.2,346.2 146.3,352.4 147.4,353.1 148.6,355.4 149.7,358.8 150.8,352.3 151.9,346.5 153.1,349.8 154.2,355.4 155.3,356.7 156.5,354.9 157.6,359.0 158.7,359.0 159.9,360.8 161.0,367.1 162.1,368.4 163.3,375.3 164.4,377.2 165.5,375.8 166.1,378.2 167.3,382.9 168.4,383.8 169.5,380.8 170.7,368.6 171.8,359.6 172.9,353.3 174.1,349.4 175.2,343.3 176.3,339.5 177.0,338.5 177.9,341.2 179.0,345.4 180.2,348.2 181.3,355.1 182.0,358.5 183.1,356.9 184.2,357.0 185.4,360.2 186.5,360.4 187.6,364.0 188.8,365.7 189.9,363.6 191.0,364.7 192.2,362.2 193.3,359.8 194.4,355.2 195.6,353.1 196.7,350.5 197.8,348.4 199.0,349.6 200.1,347.1 201.2,342.8 202.4,339.3 203.5,335.3 204.6,332.4 205.8,334.3 206.9,327.5 208.0,326.5 209.2,330.3 210.3,336.7 211.4,347.3 212.5,362.8 213.7,372.5 214.8,382.2 215.9,387.3 217.1,382.8 218.2,373.6 219.3,364.1 220.5,356.6 221.6,353.0 222.7,348.1 223.9,344.7 225.0,346.1 226.1,349.2 227.3,343.6 228.4,339.0 229.5,336.8 230.7,340.3 231.8,348.1 232.9,351.0 234.1,343.2 235.2,340.2 236.3,346.4 237.4,347.5 238.6,339.7 239.7,343.0 240.8,342.4 242.0,345.8 243.1,343.9 244.2,348.7 245.4,350.6 246.5,356.7 247.6,362.6 248.8,364.6 249.9,361.4 251.0,359.8 252.2,361.4 253.3,356.2 254.4,347.2 255.6,340.6 256.7,341.5 257.8,342.5 259.0,350.0 260.1,355.6 261.2,357.3 262.4,363.1 263.5,363.9 264.6,371.6 265.8,376.8 266.9,378.1 268.0,377.2 269.1,369.0 270.3,366.9 271.4,363.7 272.5,361.4 273.7,362.3 274.8,358.2 275.9,354.7 277.1,351.1 278.2,351.1 279.3,353.2 280.5,354.6 281.6,351.3 282.7,360.9 283.9,366.1 285.0,377.2 286.1,390.2 287.2,393.8 288.4,399.8" fill="none" stroke="#505050" stroke-width="1.0" stroke-opacity="1.0" stroke-linejoin="round" stroke-linecap="round"/>
<circle cx="509.4" cy="279.6" r="3.05" fill="rgb(22,171,151)" fill-opacity="0.68"/>
<circle cx="517.0" cy="279.6" r="3.05" fill="rgb(22,171,151)" fill-opacity="0.68"/>
<circle cx="517.2" cy="279.6" r="3.05" fill="rgb(22,171,151)" fill-opacity="0.68"/>
<circle cx="522.8" cy="297.70000000000005" r="3.05" fill="rgb(22,171,151)" fill-opacity="0.68"/>
<circle cx="524.9" cy="297.70000000000005" r="3.05" fill="rgb(22,171,151)" fill-opacity="0.68"/>
<circle cx="525.3" cy="297.70000000000005" r="3.05" fill="rgb(22,171,151)" fill-opacity="0.68"/>
<circle cx="511.6" cy="315.8" r="3.05" fill="rgb(22,171,151)" fill-opacity="0.68"/>
<circle cx="512.1" cy="315.8" r="3.05" fill="rgb(22,171,151)" fill-opacity="0.68"/>
<circle cx="512.6" cy="315.8" r="3.05" fill="rgb(22,171,151)" fill-opacity="0.68"/>
<circle cx="528.4" cy="333.90000000000003" r="3.05" fill="rgb(22,171,151)" fill-opacity="0.68"/>
<circle cx="528.6" cy="333.90000000000003" r="3.05" fill="rgb(22,171,151)" fill-opacity="0.68"/>
<circle cx="546.0" cy="333.90000000000003" r="3.05" fill="rgb(22,171,151)" fill-opacity="0.68"/>
<circle cx="539.8" cy="352.0" r="3.05" fill="rgb(22,171,151)" fill-opacity="0.68"/>
<circle cx="547.3" cy="352.0" r="3.05" fill="rgb(22,171,151)" fill-opacity="0.68"/>
<circle cx="554.4" cy="352.0" r="3.05" fill="rgb(22,171,151)" fill-opacity="0.68"/>
<circle cx="494.3" cy="370.1" r="3.05" fill="rgb(22,171,151)" fill-opacity="0.68"/>
<circle cx="498.6" cy="370.1" r="3.05" fill="rgb(22,171,151)" fill-opacity="0.68"/>
<circle cx="500.2" cy="370.1" r="3.05" fill="rgb(22,171,151)" fill-opacity="0.68"/>
<circle cx="493.8" cy="388.20000000000005" r="3.05" fill="rgb(22,171,151)" fill-opacity="0.68"/>
<circle cx="497.6" cy="388.20000000000005" r="3.05" fill="rgb(22,171,151)" fill-opacity="0.68"/>
<circle cx="512.7" cy="388.20000000000005" r="3.05" fill="rgb(22,171,151)" fill-opacity="0.68"/>
<circle cx="497.4" cy="406.30000000000007" r="3.05" fill="rgb(22,171,151)" fill-opacity="0.68"/>
<circle cx="499.4" cy="406.30000000000007" r="3.05" fill="rgb(22,171,151)" fill-opacity="0.68"/>
<circle cx="509.9" cy="406.30000000000007" r="3.05" fill="rgb(22,171,151)" fill-opacity="0.68"/>
<circle cx="530.5" cy="279.6" r="3.05" fill="rgb(128,45,226)" fill-opacity="0.7"/>
<circle cx="504.7" cy="297.70000000000005" r="3.05" fill="rgb(128,45,226)" fill-opacity="0.7"/>
<circle cx="534.0" cy="315.8" r="3.05" fill="rgb(128,45,226)" fill-opacity="0.7"/>
<circle cx="528.6" cy="333.90000000000003" r="3.05" fill="rgb(128,45,226)" fill-opacity="0.7"/>
<circle cx="499.6" cy="352.0" r="3.05" fill="rgb(128,45,226)" fill-opacity="0.7"/>
<circle cx="664.3" cy="370.1" r="3.05" fill="rgb(128,45,226)" fill-opacity="0.7"/>
<circle cx="533.4" cy="388.20000000000005" r="3.05" fill="rgb(128,45,226)" fill-opacity="0.7"/>
<circle cx="575.4" cy="406.30000000000007" r="3.05" fill="rgb(128,45,226)" fill-opacity="0.7"/>
<polygon points="470.00,295.00 470.71,296.72 472.57,296.87 471.16,298.08 471.59,299.88 470.00,298.92 468.41,299.88 468.84,298.08 467.43,296.87 469.29,296.72" fill="#6a3fa8"/>
<polygon points="470.00,349.30 470.71,351.02 472.57,351.17 471.16,352.38 471.59,354.18 470.00,353.21 468.41,354.18 468.84,352.38 467.43,351.17 469.29,351.02" fill="#6a3fa8"/>
<polygon points="470.00,367.40 470.71,369.12 472.57,369.27 471.16,370.48 471.59,372.28 470.00,371.31 468.41,372.28 468.84,370.48 467.43,369.27 469.29,369.12" fill="#2e9a8e"/>
<polygon points="677.00,349.30 677.71,351.02 679.57,351.17 678.16,352.38 678.59,354.18 677.00,353.21 675.41,354.18 675.84,352.38 674.43,351.17 676.29,351.02" fill="#2e9a8e"/>
<polygon points="677.00,367.40 677.71,369.12 679.57,369.27 678.16,370.48 678.59,372.28 677.00,371.31 675.41,372.28 675.84,370.48 674.43,369.27 676.29,369.12" fill="#6a3fa8"/>
<polygon points="677.00,403.60 677.71,405.32 679.57,405.47 678.16,406.68 678.59,408.48 677.00,407.52 675.41,408.48 675.84,406.68 674.43,405.47 676.29,405.32" fill="#6a3fa8"/>
</svg></body></html>
